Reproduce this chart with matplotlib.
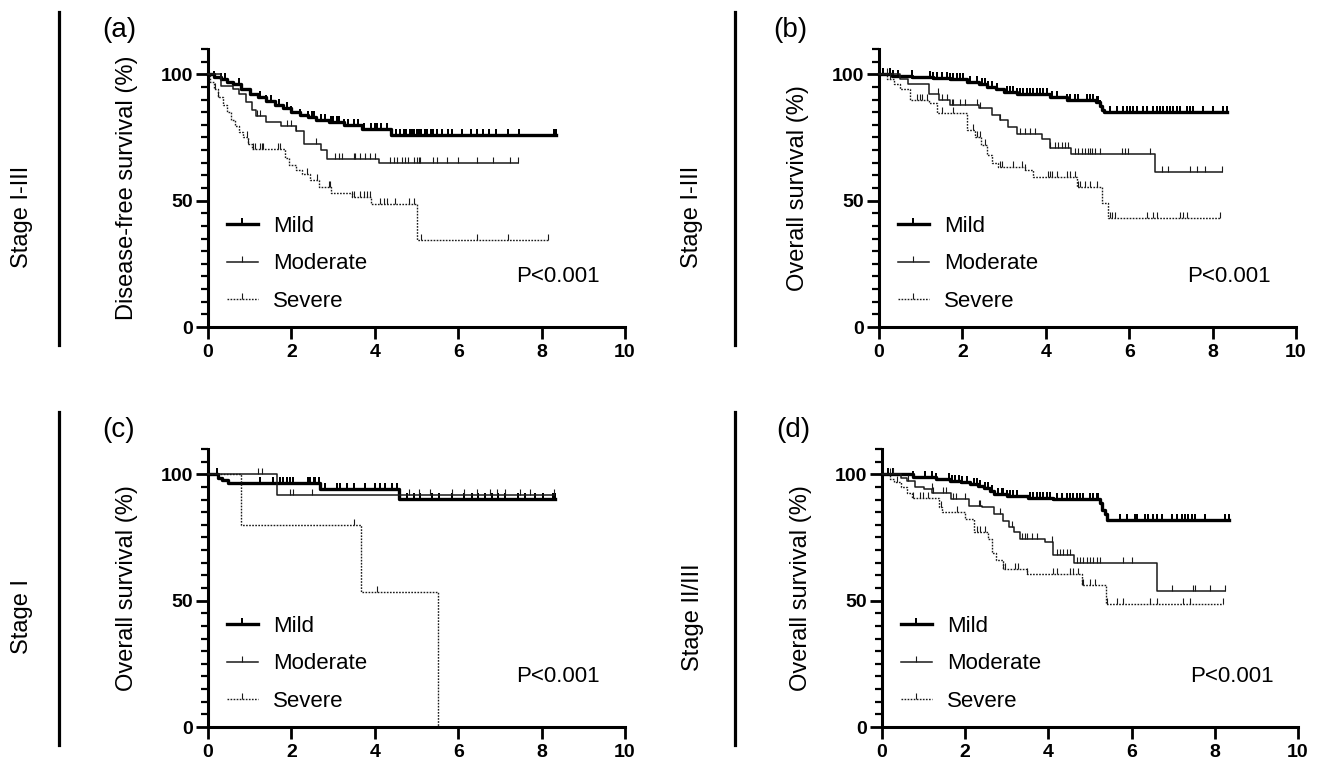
import numpy as np
import matplotlib.pyplot as plt
from matplotlib.markers import TICKUP
from matplotlib.lines import Line2D
from matplotlib.ticker import MultipleLocator

plt.rcParams['font.family'] = ['Liberation Sans', 'DejaVu Sans']

groups = ["Mild", "Moderate", "Severe"]
row_labels = ["Stage I-III", "Stage I-III", "Stage I", "Stage II/III"]
panel_tags = ["(a)", "(b)", "(c)", "(d)"]
y_titles = ["Disease-free survival (%)", "Overall survival (%)",
            "Overall survival (%)", "Overall survival (%)"]
p_texts = ["P<0.001", "P<0.001", "P<0.001", "P<0.001"]

# (a) Stage I-III, disease-free survival
a_mild_t = [0, 0.15, 0.3, 0.45, 0.6, 0.8, 1.0, 1.2, 1.4, 1.6, 1.8, 2.0, 2.2,
            2.4, 2.6, 2.9, 3.25, 3.7, 4.4]
a_mild_s = [100, 99, 98, 97, 96, 94, 92, 91, 89.5, 88, 86.5, 85, 84, 83, 82,
            81, 80, 78.5, 76]
a_mild_c = [0.15, 0.3, 0.4, 0.75, 1.0, 1.25, 1.4, 1.5, 1.7, 1.9, 2.0, 2.2, 2.4,
            2.5, 2.55, 2.7, 2.8, 2.95, 3.0, 3.1, 3.15, 3.25, 3.35, 3.5, 3.6,
            3.75, 3.9, 4.0, 4.05, 4.15, 4.3, 4.4, 4.5, 4.6, 4.7, 4.75, 4.85,
            4.9, 4.95, 5.0, 5.05, 5.1, 5.2, 5.25, 5.35, 5.4, 5.5, 5.6, 5.75,
            5.85, 6.1, 6.3, 6.45, 6.6, 6.75, 6.9, 7.2, 7.45, 8.3, 8.35]
a_mod_t = [0, 0.3, 0.6, 0.75, 0.9, 1.05, 1.15, 1.4, 1.75, 2.1, 2.3, 2.7, 2.85,
           4.1]
a_mod_s = [100, 95.5, 94, 92, 89, 86, 83.5, 81, 79.5, 77.5, 72.5, 70, 66.5,
           64.8]
a_mod_c = [1.17, 1.25, 1.9, 2.0, 2.1, 2.6, 3.05, 3.13, 3.21, 3.5, 3.53, 3.65,
           3.77, 3.89, 4.0, 4.37, 4.45, 4.53, 4.65, 4.73, 4.8, 4.93, 5.0, 5.05,
           5.09, 5.4, 5.48, 5.72, 6.0, 6.44, 6.84, 7.24, 7.44]
a_sev_t = [0, 0.05, 0.15, 0.25, 0.35, 0.45, 0.55, 0.65, 0.75, 0.85, 0.95, 1.05,
           1.85, 1.95, 2.1, 2.25, 2.45, 2.65, 2.95, 3.45, 3.9, 5.0]
a_sev_s = [100, 97, 94, 91, 88, 85, 82, 79.5, 77, 75, 72.5, 70.5, 67, 64, 62,
           60.5, 58, 55.5, 53, 51.5, 48.5, 34.5]
a_sev_c = [0.17, 0.25, 0.93, 0.97, 1.09, 1.13, 1.25, 1.29, 1.33, 1.69, 1.73,
           2.37, 2.61, 2.89, 2.93, 3.45, 3.49, 3.65, 3.73, 3.81, 3.89, 4.13,
           4.21, 4.29, 4.49, 4.81, 4.93, 5.1, 6.45, 7.2, 8.16]

# (b) Stage I-III, overall survival
b_mild_t = [0, 0.3, 0.8, 1.3, 1.7, 2.1, 2.4, 2.6, 2.8, 3.0, 3.3, 4.1, 4.5, 5.2,
            5.3, 5.35, 5.4]
b_mild_s = [100, 99.5, 99, 98.5, 98, 97, 96, 95, 94, 93, 92.2, 91, 90, 89,
            87.5, 86, 85]
b_mild_c = [0.1, 0.26, 0.34, 0.46, 0.78, 1.22, 1.3, 1.38, 1.5, 1.62, 1.7, 1.78,
            1.86, 1.94, 2.02, 2.18, 2.34, 2.46, 2.54, 2.62, 2.7, 2.82, 3.06,
            3.14, 3.22, 3.3, 3.38, 3.46, 3.54, 3.62, 3.7, 3.78, 3.86, 3.94,
            4.02, 4.14, 4.26, 4.5, 4.58, 4.7, 4.78, 4.98, 5.06, 5.14, 5.22,
            5.26, 5.3, 5.54, 5.7, 5.86, 5.94, 6.02, 6.1, 6.18, 6.34, 6.42, 6.58,
            6.66, 6.74, 6.82, 6.9, 6.98, 7.06, 7.14, 7.22, 7.38, 7.46, 7.54,
            7.78, 8.02, 8.26, 8.34]
b_mod_t = [0, 0.5, 0.7, 1.2, 1.45, 1.7, 2.4, 2.7, 2.9, 3.1, 3.3, 3.9, 4.1, 4.6,
           6.62]
b_mod_s = [100, 98, 96, 92, 90, 88, 86.5, 84, 82, 79, 76.5, 74.5, 71, 68.5,
           61.5]
b_mod_c = [1.42, 1.5, 1.62, 1.74, 1.78, 1.94, 2.06, 2.34, 2.42, 2.9, 3.38, 3.5,
           3.62, 3.74, 4.1, 4.22, 4.3, 4.38, 4.46, 4.54, 4.7, 4.78, 4.86, 4.94,
           5.02, 5.06, 5.1, 5.18, 5.3, 5.82, 5.9, 5.98, 6.5, 6.78, 6.94, 7.46,
           7.62, 7.82, 8.22]
b_sev_t = [0, 0.2, 0.35, 0.5, 0.75, 1.2, 1.4, 2.1, 2.3, 2.45, 2.6, 2.7, 2.85,
           3.5, 3.7, 4.75, 5.35, 5.5]
b_sev_s = [100, 98, 96, 94, 90, 88.5, 84.5, 78, 75, 72, 68, 65, 63.5, 62, 59.5,
           55.5, 49, 43]
b_sev_c = [0.18, 0.26, 0.9, 0.98, 1.02, 1.14, 1.5, 1.78, 2.26, 2.34, 2.42, 2.54,
           2.9, 2.94, 3.22, 3.42, 3.5, 4.06, 4.1, 4.14, 4.26, 4.5, 4.58, 4.7,
           4.78, 4.82, 4.94, 5.06, 5.22, 5.54, 5.58, 5.66, 6.42, 6.58, 6.66,
           7.22, 7.3, 7.38, 8.18]

# (c) Stage I, overall survival
c_mild_t = [0, 0.25, 0.33, 0.49, 2.69, 4.59]
c_mild_s = [100, 98.6, 97.7, 96.5, 94.2, 90.4]
c_mild_c = [0.21, 1.25, 1.57, 1.73, 1.81, 1.89, 1.97, 2.05, 2.41, 2.45, 2.53,
            2.57, 2.65, 2.81, 3.09, 3.17, 3.33, 3.49, 3.77, 4.01, 4.13, 4.25,
            4.41, 4.53, 4.77, 4.93, 5.09, 5.37, 5.53, 5.85, 6.13, 6.33, 6.48,
            6.64, 6.8, 6.96, 7.12, 7.44, 7.6, 7.84, 8.04, 8.28, 8.32]
c_mod_t = [0, 1.66]
c_mod_s = [100, 91.8]
c_mod_c = [1.21, 1.29, 1.97, 2.05, 2.49, 4.81, 5.05, 5.33, 5.85, 6.13, 6.45,
           6.76, 6.92, 7.12, 7.48, 7.72, 8.3]
c_sev_t = [0, 0.79, 3.67, 5.52]
c_sev_s = [100, 80, 53.3, 0]
c_sev_c = [3.49, 4.05]

# (d) Stage II/III, overall survival
d_mild_t = [0, 0.75, 1.3, 1.63, 1.9, 2.12, 2.3, 2.44, 2.6, 2.7, 3.0, 3.5, 4.12,
            5.24, 5.3, 5.36, 5.42]
d_mild_s = [100, 99, 98.3, 97.4, 96.8, 96, 95.2, 94.4, 93.2, 92.2, 91.3, 90.8,
            90.2, 88.5, 86, 84.3, 82.1]
d_mild_c = [0.03, 0.15, 0.27, 0.75, 1.03, 1.19, 1.31, 1.6, 1.68, 1.76, 1.84,
            1.92, 2.04, 2.2, 2.28, 2.36, 2.48, 2.56, 2.64, 2.8, 2.88, 2.92, 3.0,
            3.08, 3.16, 3.24, 3.56, 3.64, 3.72, 3.8, 3.88, 3.96, 4.04, 4.2,
            4.32, 4.44, 4.52, 4.6, 4.68, 4.76, 4.84, 5.0, 5.08, 5.16, 5.2, 5.72,
            5.88, 6.08, 6.12, 6.32, 6.4, 6.52, 6.6, 6.72, 6.96, 7.08, 7.2, 7.28,
            7.36, 7.44, 7.52, 7.76, 8.25, 8.33]
d_mod_t = [0, 0.45, 0.6, 0.8, 1.0, 1.2, 1.65, 2.1, 2.4, 2.7, 2.92, 3.05, 3.17,
           3.32, 3.92, 4.1, 4.62, 6.6]
d_mod_s = [100, 98.5, 97.5, 95, 94, 92.5, 90.2, 87.6, 86.9, 84.3, 81.7, 79, 77,
           74.5, 73.2, 68, 65, 54]
d_mod_c = [0.27, 0.63, 1.19, 1.23, 1.47, 1.55, 1.71, 1.79, 1.99, 2.32, 2.36,
           2.84, 3.12, 3.36, 3.44, 3.48, 3.6, 3.72, 4.08, 4.2, 4.28, 4.36, 4.44,
           4.52, 4.68, 4.76, 4.84, 4.92, 5.0, 5.08, 5.16, 5.24, 5.8, 6.0, 6.96,
           7.48, 7.52, 7.89, 8.25]
d_sev_t = [0, 0.2, 0.3, 0.45, 0.6, 0.72, 1.38, 1.45, 2.0, 2.2, 2.55, 2.65, 2.75,
           2.92, 3.48, 4.8, 5.39]
d_sev_s = [100, 98, 96.8, 94.8, 92.5, 90.7, 87, 85, 82.3, 77.1, 74.5, 69, 66,
           62.6, 60.6, 56, 48.5]
d_sev_c = [0.19, 0.35, 0.75, 0.91, 0.99, 1.11, 1.43, 1.8, 2.28, 2.36, 2.48,
           2.92, 2.96, 3.2, 3.28, 3.48, 4.12, 4.2, 4.52, 4.6, 4.72, 4.8, 4.84,
           5.0, 5.12, 5.4, 5.64, 5.8, 6.44, 6.6, 7.24, 7.4, 8.2]

curves = [
  [(a_mild_t, a_mild_s, a_mild_c), (a_mod_t, a_mod_s, a_mod_c),
   (a_sev_t, a_sev_s, a_sev_c)],
  [(b_mild_t, b_mild_s, b_mild_c), (b_mod_t, b_mod_s, b_mod_c),
   (b_sev_t, b_sev_s, b_sev_c)],
  [(c_mild_t, c_mild_s, c_mild_c), (c_mod_t, c_mod_s, c_mod_c),
   (c_sev_t, c_sev_s, c_sev_c)],
  [(d_mild_t, d_mild_s, d_mild_c), (d_mod_t, d_mod_s, d_mod_c),
   (d_sev_t, d_sev_s, d_sev_c)],
]

styles = {"Mild": dict(color='black', lw=2.4, ls='-'),
          "Moderate": dict(color='#1a1a1a', lw=1.1, ls='-'),
          "Severe": dict(color='#1a1a1a', lw=1.0, ls=(0, (1.2, 1.0)))}

W, H = 1320, 769
fig = plt.figure(figsize=(W / 100, H / 100), dpi=100)

# axes boxes in pixels: (left, x-axis y, right)
boxes = [(208, 327, 625), (879, 327, 1296), (208, 727, 625), (882, 727, 1298)]
ax_h = 278
bar_x = [59, 735, 59, 735]
stage_x = [22, 692, 22, 693]


def plotKM(ax, t, s, c, style):
  t = np.asarray(t, dtype=float)
  s = np.asarray(s, dtype=float)
  end = max(max(c) if len(c) else t[-1], t[-1])
  xs = np.append(t, end)
  ys = np.append(s, s[-1])
  ax.step(xs, ys, where='post', color=style['color'], lw=style['lw'],
          ls=style['ls'], clip_on=False, zorder=3)
  if len(c):
    idx = np.searchsorted(t, c, side='right') - 1
    ax.plot(c, s[idx], ls='none', marker=TICKUP, ms=4,
            mew=max(style['lw'] * 0.6, 0.8), color=style['color'],
            clip_on=False, zorder=3)


for i, (left, base, right) in enumerate(boxes):
  ax = fig.add_axes([left / W, (H - base) / H, (right - left) / W, ax_h / H])
  for g, (t, s, c) in zip(groups, curves[i]):
    plotKM(ax, t, s, c, styles[g])
  ax.set_xlim(0, 10)
  ax.set_ylim(0, 110)
  for side in ('top', 'right'):
    ax.spines[side].set_visible(False)
  for side in ('left', 'bottom'):
    ax.spines[side].set_linewidth(2.2)
  ax.xaxis.set_major_locator(MultipleLocator(2))
  ax.yaxis.set_major_locator(MultipleLocator(50))
  ax.yaxis.set_minor_locator(MultipleLocator(5))
  ax.tick_params(which='major', length=8.5, width=2.0, labelsize=14, pad=2.5)
  ax.tick_params(axis='x', which='major', pad=3.5)
  ax.tick_params(which='minor', length=5, width=1.6)
  for lab in ax.get_xticklabels() + ax.get_yticklabels():
    lab.set_fontweight('bold')
  ax.set_ylabel(y_titles[i], fontsize=17)
  ax.yaxis.set_label_coords(-0.168, 0.5)
  ax.text(7.4, 20, p_texts[i], fontsize=16, va='center', ha='left')

  handles = [Line2D([], [], color=styles[g]['color'], lw=styles[g]['lw'],
                    ls=styles[g]['ls'], marker=TICKUP, ms=4,
                    mew=max(styles[g]['lw'] * 0.6, 0.8)) for g in groups]
  ax.legend(handles, groups, loc='center left', bbox_to_anchor=(0.045, 0.227),
            frameon=False, fontsize=16, numpoints=1, handlelength=1.4,
            handletextpad=0.7, labelspacing=0.75, borderpad=0,
            borderaxespad=0)

  # panel tag, stage label and separator bar
  fig.text((left - 106) / W, (H - (base - 297)) / H, panel_tags[i],
           fontsize=20, ha='left', va='center')
  fig.text(stage_x[i] / W, (H - (base - 110)) / H, row_labels[i],
           fontsize=17, rotation=90, ha='center', va='center')
  fig.add_artist(Line2D([bar_x[i] / W] * 2,
                        [(H - (base - 315)) / H, (H - (base + 18)) / H],
                        color='black', lw=2.3))

fig.savefig('out.png', dpi=100)
